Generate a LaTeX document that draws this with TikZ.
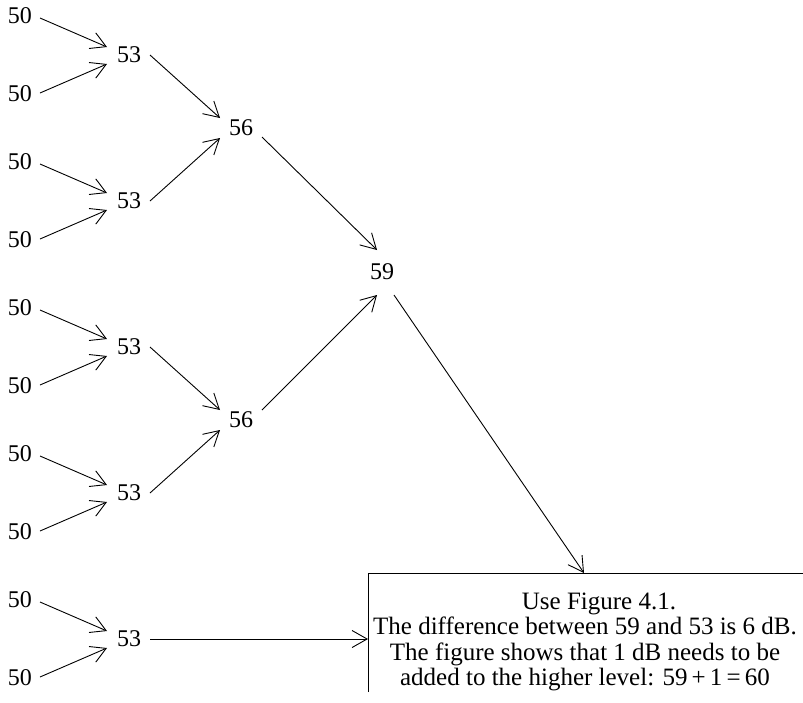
\documentclass[tikz,border=0pt]{standalone}
\usepackage{fontspec}
\setmainfont{Liberation Serif}
\usetikzlibrary{arrows.meta}

\begin{document}
\begin{tikzpicture}[x=1pt,y=-1pt,
  num/.style={inner sep=0pt, font=\fontsize{24}{25.5}\selectfont},
  note/.style={inner sep=0pt, align=center, font=\fontsize{25}{25.5}\selectfont},
  link/.style={line width=0.9pt, -{Straight Barb[length=15pt,width=17pt]}},
  frame/.style={line width=0.9pt}]
\useasboundingbox (0,0) rectangle (803,702);

% five first-stage pairs: 50 + 50 -> 53
\foreach \c [count=\i] in {55,201,347,493,639} {
  \node[num] (a\i) at (20,\c-39) {50};
  \node[num] (b\i) at (20,\c+39) {50};
  \node[num] (m\i) at (129,\c) {53};
  \draw[link] ([shift={(20,2)}]a\i.center) -- ([shift={(-22,-8)}]m\i.center);
  \draw[link] ([shift={(20,-1)}]b\i.center) -- ([shift={(-22,9)}]m\i.center);
}

% second stage: 53 + 53 -> 56
\node[num] (u1) at (241,128) {56};
\node[num] (u2) at (241,420) {56};
\draw[link] ([shift={(21,0)}]m1.center) -- ([shift={(-21,-10)}]u1.center);
\draw[link] ([shift={(21,0)}]m2.center) -- ([shift={(-21,10)}]u1.center);
\draw[link] ([shift={(21,0)}]m3.center) -- ([shift={(-21,-10)}]u2.center);
\draw[link] ([shift={(21,0)}]m4.center) -- ([shift={(-21,10)}]u2.center);

% third stage: 56 + 56 -> 59
\node[num] (t) at (382,272) {59};
\draw[link] ([shift={(21,9)}]u1.center) -- ([shift={(-5,-22)}]t.center);
\draw[link] ([shift={(21,-10)}]u2.center) -- ([shift={(-5,23)}]t.center);

% explanation box (open at right and bottom)
\coordinate (boxtop) at (584,573);
\coordinate (boxleft) at (368,639);
\draw[frame] (368,692) -- (368,573) -- (803,573);
\node[note] (txt) at (585,642) {\hspace*{28pt}Use Figure 4.1.\\
  The difference between 59 and 53 is 6 dB.\\
  The figure shows that 1 dB needs to be\\
  added to the higher level: 59\,+\,1\,=\,60};

\draw[link] ([shift={(12,23)}]t.center) -- (boxtop);
\draw[link] ([shift={(21,0)}]m5.center) -- (boxleft);
\end{tikzpicture}
\end{document}
